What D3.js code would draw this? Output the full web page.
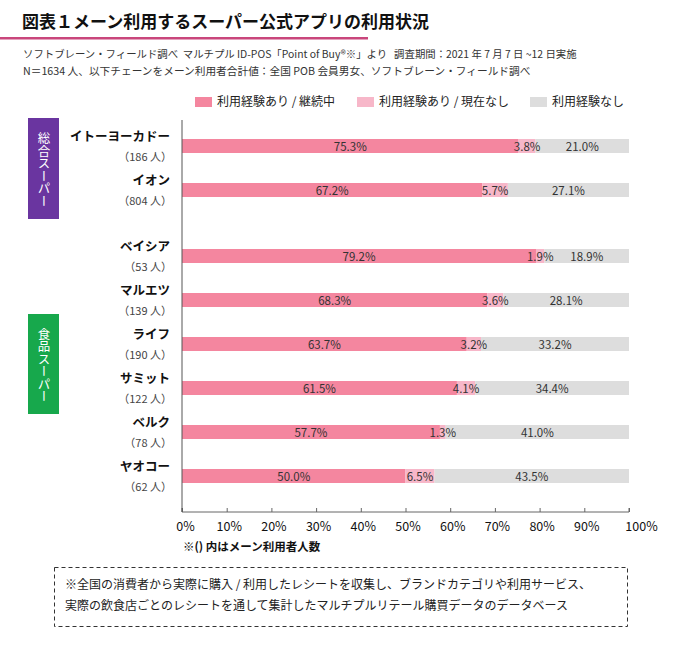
<!DOCTYPE html>
<html><head><meta charset="utf-8">
<script src="https://cdn.jsdelivr.net/npm/d3@7"></script>
<style>
body{margin:0;background:#fff;}
svg{font-family:"Noto Sans CJK JP","Noto Sans",sans-serif;}
</style></head>
<body><svg id="c" width="680" height="645"></svg>
<script>
const stores = ["イトーヨーカドー","イオン","ベイシア","マルエツ","ライフ","サミット","ベルク","ヤオコー"];
const counts = ["（186 人）","（804 人）","（53 人）","（139 人）","（190 人）","（122 人）","（78 人）","（62 人）"];
const slots = [0,1,2.5,3.5,4.5,5.5,6.5,7.5];
const continuing = [75.3,67.2,79.2,68.3,63.7,61.5,57.7,50.0];
const stopped = [3.8,5.7,1.9,3.6,3.2,4.1,1.3,6.5];
const never = [21.0,27.1,18.9,28.1,33.2,34.4,41.0,43.5];
const seriesNames = ["利用経験あり / 継続中","利用経験あり / 現在なし","利用経験なし"];
const ticks = [0,10,20,30,40,50,60,70,80,90,100];
const groups = ["総合スーパー","食品スーパー"];

const colors = ["#f4869f","#f7b7c9","#dddddd"];
const svg = d3.select("#c");

// title
svg.append("text").attr("x",22).attr("y",28).attr("font-size",17).attr("font-weight","bold").attr("fill","#111")
  .text("図表１メーン利用するスーパー公式アプリの利用状況");
svg.append("rect").attr("x",0).attr("y",37).attr("width",368).attr("height",2.5).attr("fill","#c9467c");
svg.append("text").attr("x",23).attr("y",58).attr("font-size",10.4).attr("fill","#333").attr("style","white-space:pre")
  .text("ソフトブレーン・フィールド調べ  マルチプル ID-POS「Point of Buy®※」より   調査期間：2021 年 7 月 7 日 ~12 日実施");
svg.append("text").attr("x",23).attr("y",75).attr("font-size",10.7).attr("fill","#333")
  .text("N＝1634 人、以下チェーンをメーン利用者合計値：全国 POB 会員男女、ソフトブレーン・フィールド調べ");

// legend
const legX = [195,357,530];
seriesNames.forEach((n,i)=>{
  svg.append("rect").attr("x",legX[i]).attr("y",97).attr("width",17).attr("height",10).attr("fill",colors[i]);
  svg.append("text").attr("x",legX[i]+22).attr("y",106).attr("font-size",12).attr("fill","#222").text(n);
});

const x = d3.scaleLinear().domain([0,100]).range([182,629]);
const y = d3.scaleLinear().domain([0,7.5]).range([146,476]);
const bh = 14;

const data = stores.map((s,i)=>({s, c:counts[i], slot:slots[i], vals:[continuing[i],stopped[i],never[i]]}));
data.forEach(d=>{
  let acc=0;
  d.segs = d.vals.map((v,k)=>{const seg={k,v,x0:acc,x1:acc+v}; acc+=v; return seg;});
});
const rows = svg.selectAll("g.row").data(data).join("g").attr("class","row");
rows.selectAll("rect").data(d=>d.segs.map(s=>({...s,slot:d.slot}))).join("rect")
  .attr("x",s=>x(s.x0)).attr("width",s=>x(Math.min(100,s.x1))-x(s.x0))
  .attr("y",s=>y(s.slot)-bh/2).attr("height",bh).attr("fill",s=>colors[s.k]);
rows.selectAll("text.v").data(d=>d.segs.map(s=>({...s,slot:d.slot}))).join("text").attr("class","v")
  .attr("x",s=>x((s.x0+Math.min(100,s.x1))/2)).attr("y",s=>y(s.slot)+4.5)
  .attr("text-anchor","middle").attr("font-size",11.5).attr("fill","#333")
  .text(s=>s.v.toFixed(1)+"%");
rows.append("text").attr("x",170).attr("y",d=>y(d.slot)-5).attr("text-anchor","end")
  .attr("font-size",12.5).attr("font-weight","bold").attr("fill","#111").text(d=>d.s);
rows.append("text").attr("x",172).attr("y",d=>y(d.slot)+15).attr("text-anchor","end")
  .attr("font-size",11).attr("fill","#444").text(d=>d.c);

// axis
const ax = svg.append("g").attr("transform","translate(0,512)")
  .call(d3.axisBottom(x).tickValues(ticks).tickSize(4).tickFormat(d=>d+"%"));
ax.select(".domain").attr("stroke","#666").attr("d","M182,-4V0H629V-4");
ax.selectAll(".tick line").attr("stroke","#666").attr("y2",-4);
ax.selectAll(".tick text").attr("font-size",12.5).attr("fill","#111").attr("y",10).attr("dy","0.71em")
  .attr("font-family","'Noto Sans CJK JP',sans-serif").attr("dx",(d)=>d===100?12:(d===0?3:2));
svg.append("line").attr("x1",182).attr("x2",182).attr("y1",120).attr("y2",512).attr("stroke","#555").attr("stroke-width",1);

svg.append("text").attr("x",183).attr("y",551).attr("font-size",11.5).attr("font-weight","bold").attr("fill","#111")
  .text("※() 内はメーン利用者人数");

// groups
const gcol = ["#6a35a0","#17a84c"];
const gbox = [[118,219],[314,414]];
groups.forEach((g,i)=>{
  svg.append("rect").attr("x",28).attr("y",gbox[i][0]).attr("width",31).attr("height",gbox[i][1]-gbox[i][0]).attr("fill",gcol[i]);
  svg.append("text").attr("x",44).attr("y",(gbox[i][0]+gbox[i][1])/2+1).attr("font-size",12.5).attr("fill","#fff")
    .attr("text-anchor","middle").attr("style","writing-mode:vertical-rl;text-orientation:mixed")
    .text(g);
});

// note box
svg.append("rect").attr("x",54.5).attr("y",567.5).attr("width",573).attr("height",59).attr("fill","none")
  .attr("stroke","#333").attr("stroke-dasharray","4,3");
svg.append("text").attr("x",65).attr("y",589).attr("font-size",12).attr("fill","#222")
  .text("※全国の消費者から実際に購入 / 利用したレシートを収集し、ブランドカテゴリや利用サービス、");
svg.append("text").attr("x",65).attr("y",610).attr("font-size",12).attr("fill","#222")
  .text("実際の飲食店ごとのレシートを通して集計したマルチプルリテール購買データのデータベース");
</script></body></html>
